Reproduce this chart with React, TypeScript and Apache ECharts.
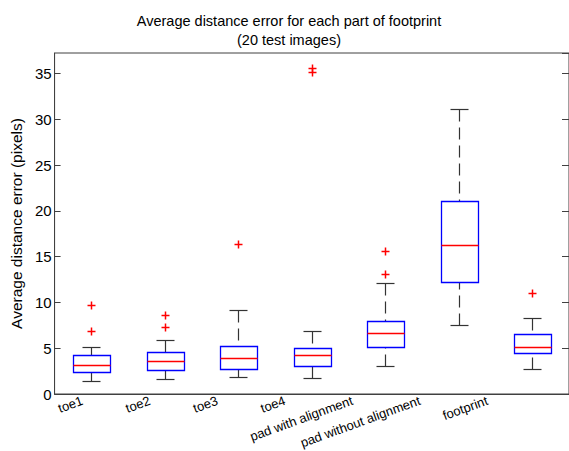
import React, { useEffect, useRef } from "react";
import * as echarts from "echarts";

const categories = [
  "toe1",
  "toe2",
  "toe3",
  "toe4",
  "pad with alignment",
  "pad without alignment",
  "footprint",
];
const lowerWhisker = [1.44, 1.62, 1.91, 1.77, 3.01, 7.57, 2.68];
const q1 = [2.39, 2.65, 2.68, 3.01, 5.12, 12.27, 4.43];
const median = [3.19, 3.56, 3.88, 4.25, 6.69, 16.28, 5.16];
const q3 = [4.25, 4.54, 5.27, 5.01, 7.93, 21.03, 6.59];
const upperWhisker = [5.12, 5.89, 9.21, 6.87, 12.16, 31.09, 8.26];
const outliers: [number, number][] = [
  [0, 9.68],
  [0, 6.87],
  [1, 8.66],
  [1, 7.27],
  [2, 16.43],
  [3, 35.58],
  [3, 35.2],
  [4, 15.67],
  [4, 13.07],
  [6, 11.0],
];
const yMin = 0;
const yMax = 37.25;
const yInterval = 5;

const FONT = "'Liberation Sans', Arial, Helvetica, sans-serif";
const AXIS = "#404040";

export default function App() {
  const ref = useRef<HTMLDivElement>(null);
  useEffect(() => {
    if (!ref.current) return;
    const chart = echarts.init(ref.current, undefined, { renderer: "svg" });
    const boxData = categories.map((_, i) => [
      i,
      lowerWhisker[i],
      q1[i],
      median[i],
      q3[i],
      upperWhisker[i],
    ]);
    const option: any = {
      animation: false,
      backgroundColor: "#ffffff",
      title: {
        text: "Average distance error for each part of footprint\n(20 test images)",
        left: 284,
        textAlign: "center",
        top: 6,
        textStyle: {
          fontFamily: FONT,
          fontSize: 14.5,
          fontWeight: "normal",
          color: "#000",
          lineHeight: 19,
        },
      },
      grid: {
        left: 53,
        top: 53,
        width: 522,
        height: 341,
        show: true,
        borderColor: AXIS,
        borderWidth: 1,
        backgroundColor: "#fff",
      },
      xAxis: {
        type: "category",
        data: categories,
        boundaryGap: true,
        axisLine: { show: true, lineStyle: { color: AXIS } },
        axisTick: { show: false },
        axisLabel: { show: false },
        splitLine: { show: false },
      },
      yAxis: [
        {
          type: "value",
          min: yMin,
          max: yMax,
          interval: yInterval,
          name: "Average distance error (pixels)",
          nameLocation: "middle",
          nameGap: 30,
          nameTextStyle: { fontFamily: FONT, fontSize: 15.5, color: "#000" },
          axisLine: { show: true, lineStyle: { color: AXIS } },
          axisTick: { show: true, inside: true, length: 6, lineStyle: { color: AXIS } },
          axisLabel: {
            fontFamily: FONT,
            fontSize: 15,
            color: "#000",
            margin: 3,
            showMaxLabel: false,
            formatter: (v: number) => (v % 5 === 0 ? String(v) : ""),
          },
          splitLine: { show: false },
        },
        {
          type: "value",
          position: "right",
          min: yMin,
          max: yMax,
          interval: yInterval,
          axisLine: { show: true, lineStyle: { color: AXIS } },
          axisTick: { show: true, inside: true, length: 7, lineStyle: { color: AXIS } },
          axisLabel: { show: false },
          splitLine: { show: false },
        },
      ],
      series: [
        {
          type: "custom",
          name: "box",
          data: boxData,
          clip: false,
          renderItem: (params: any, api: any) => {
            const i = api.value(0);
            const cx = Math.round(api.coord([i, 0])[0]) + 0.5;
            const band = api.size([1, 0])[0];
            const bw = Math.round(band * 0.5);
            const cw = Math.round(band * 0.25);
            const y = (v: number) => Math.round(api.coord([i, v])[1]) + 0.5;
            const lw = y(api.value(1));
            const b1 = y(api.value(2));
            const md = y(api.value(3));
            const b3 = y(api.value(4));
            const uw = y(api.value(5));
            const wStyle = { stroke: "#333", lineWidth: 1.2, lineDash: [12, 6] };
            const cStyle = { stroke: "#333", lineWidth: 1.2 };
            const bx = Math.round(cx - bw / 2) + 0.5;
            return {
              type: "group",
              children: [
                { type: "line", shape: { x1: cx, y1: uw, x2: cx, y2: b3 }, style: wStyle },
                { type: "line", shape: { x1: cx, y1: lw, x2: cx, y2: b1 }, style: wStyle },
                { type: "line", shape: { x1: cx - cw / 2, y1: uw, x2: cx + cw / 2, y2: uw }, style: cStyle },
                { type: "line", shape: { x1: cx - cw / 2, y1: lw, x2: cx + cw / 2, y2: lw }, style: cStyle },
                {
                  type: "rect",
                  shape: { x: bx, y: b3, width: bw, height: b1 - b3 },
                  style: { fill: "none", stroke: "#0000ff", lineWidth: 1.3 },
                },
                {
                  type: "line",
                  shape: { x1: bx, y1: md, x2: bx + bw, y2: md },
                  style: { stroke: "#ff0000", lineWidth: 1.5 },
                },
              ],
            };
          },
        },
        {
          type: "custom",
          name: "outliers",
          data: outliers,
          clip: false,
          renderItem: (params: any, api: any) => {
            const p = api.coord([api.value(0), api.value(1)]);
            const x = Math.round(p[0]) + 0.5;
            const yy = Math.round(p[1]) + 0.5;
            const s = 4;
            const st = { stroke: "#ff0000", lineWidth: 1.5 };
            return {
              type: "group",
              children: [
                { type: "line", shape: { x1: x - s, y1: yy, x2: x + s, y2: yy }, style: st },
                { type: "line", shape: { x1: x, y1: yy - s, x2: x, y2: yy + s }, style: st },
              ],
            };
          },
        },
        {
          type: "custom",
          name: "labels",
          data: categories.map((_, i) => [i, 0]),
          clip: false,
          renderItem: (params: any, api: any) => {
            const i = api.value(0);
            const p = api.coord([i, 0]);
            const shift = 9 + 6 * i;
            return {
              type: "text",
              x: p[0] - shift,
              y: p[1] + 6,
              rotation: (20 * Math.PI) / 180,
              style: {
                text: categories[i],
                align: "right",
                verticalAlign: "middle",
                fontFamily: FONT,
                fontSize: 13,
                fill: "#000",
              },
            };
          },
        },
      ],
    };
    chart.setOption(option);
    return () => chart.dispose();
  }, []);
  return (
    <div
      ref={ref}
      style={{ position: "absolute", left: 0, top: 0, width: 569, height: 451 }}
    />
  );
}
